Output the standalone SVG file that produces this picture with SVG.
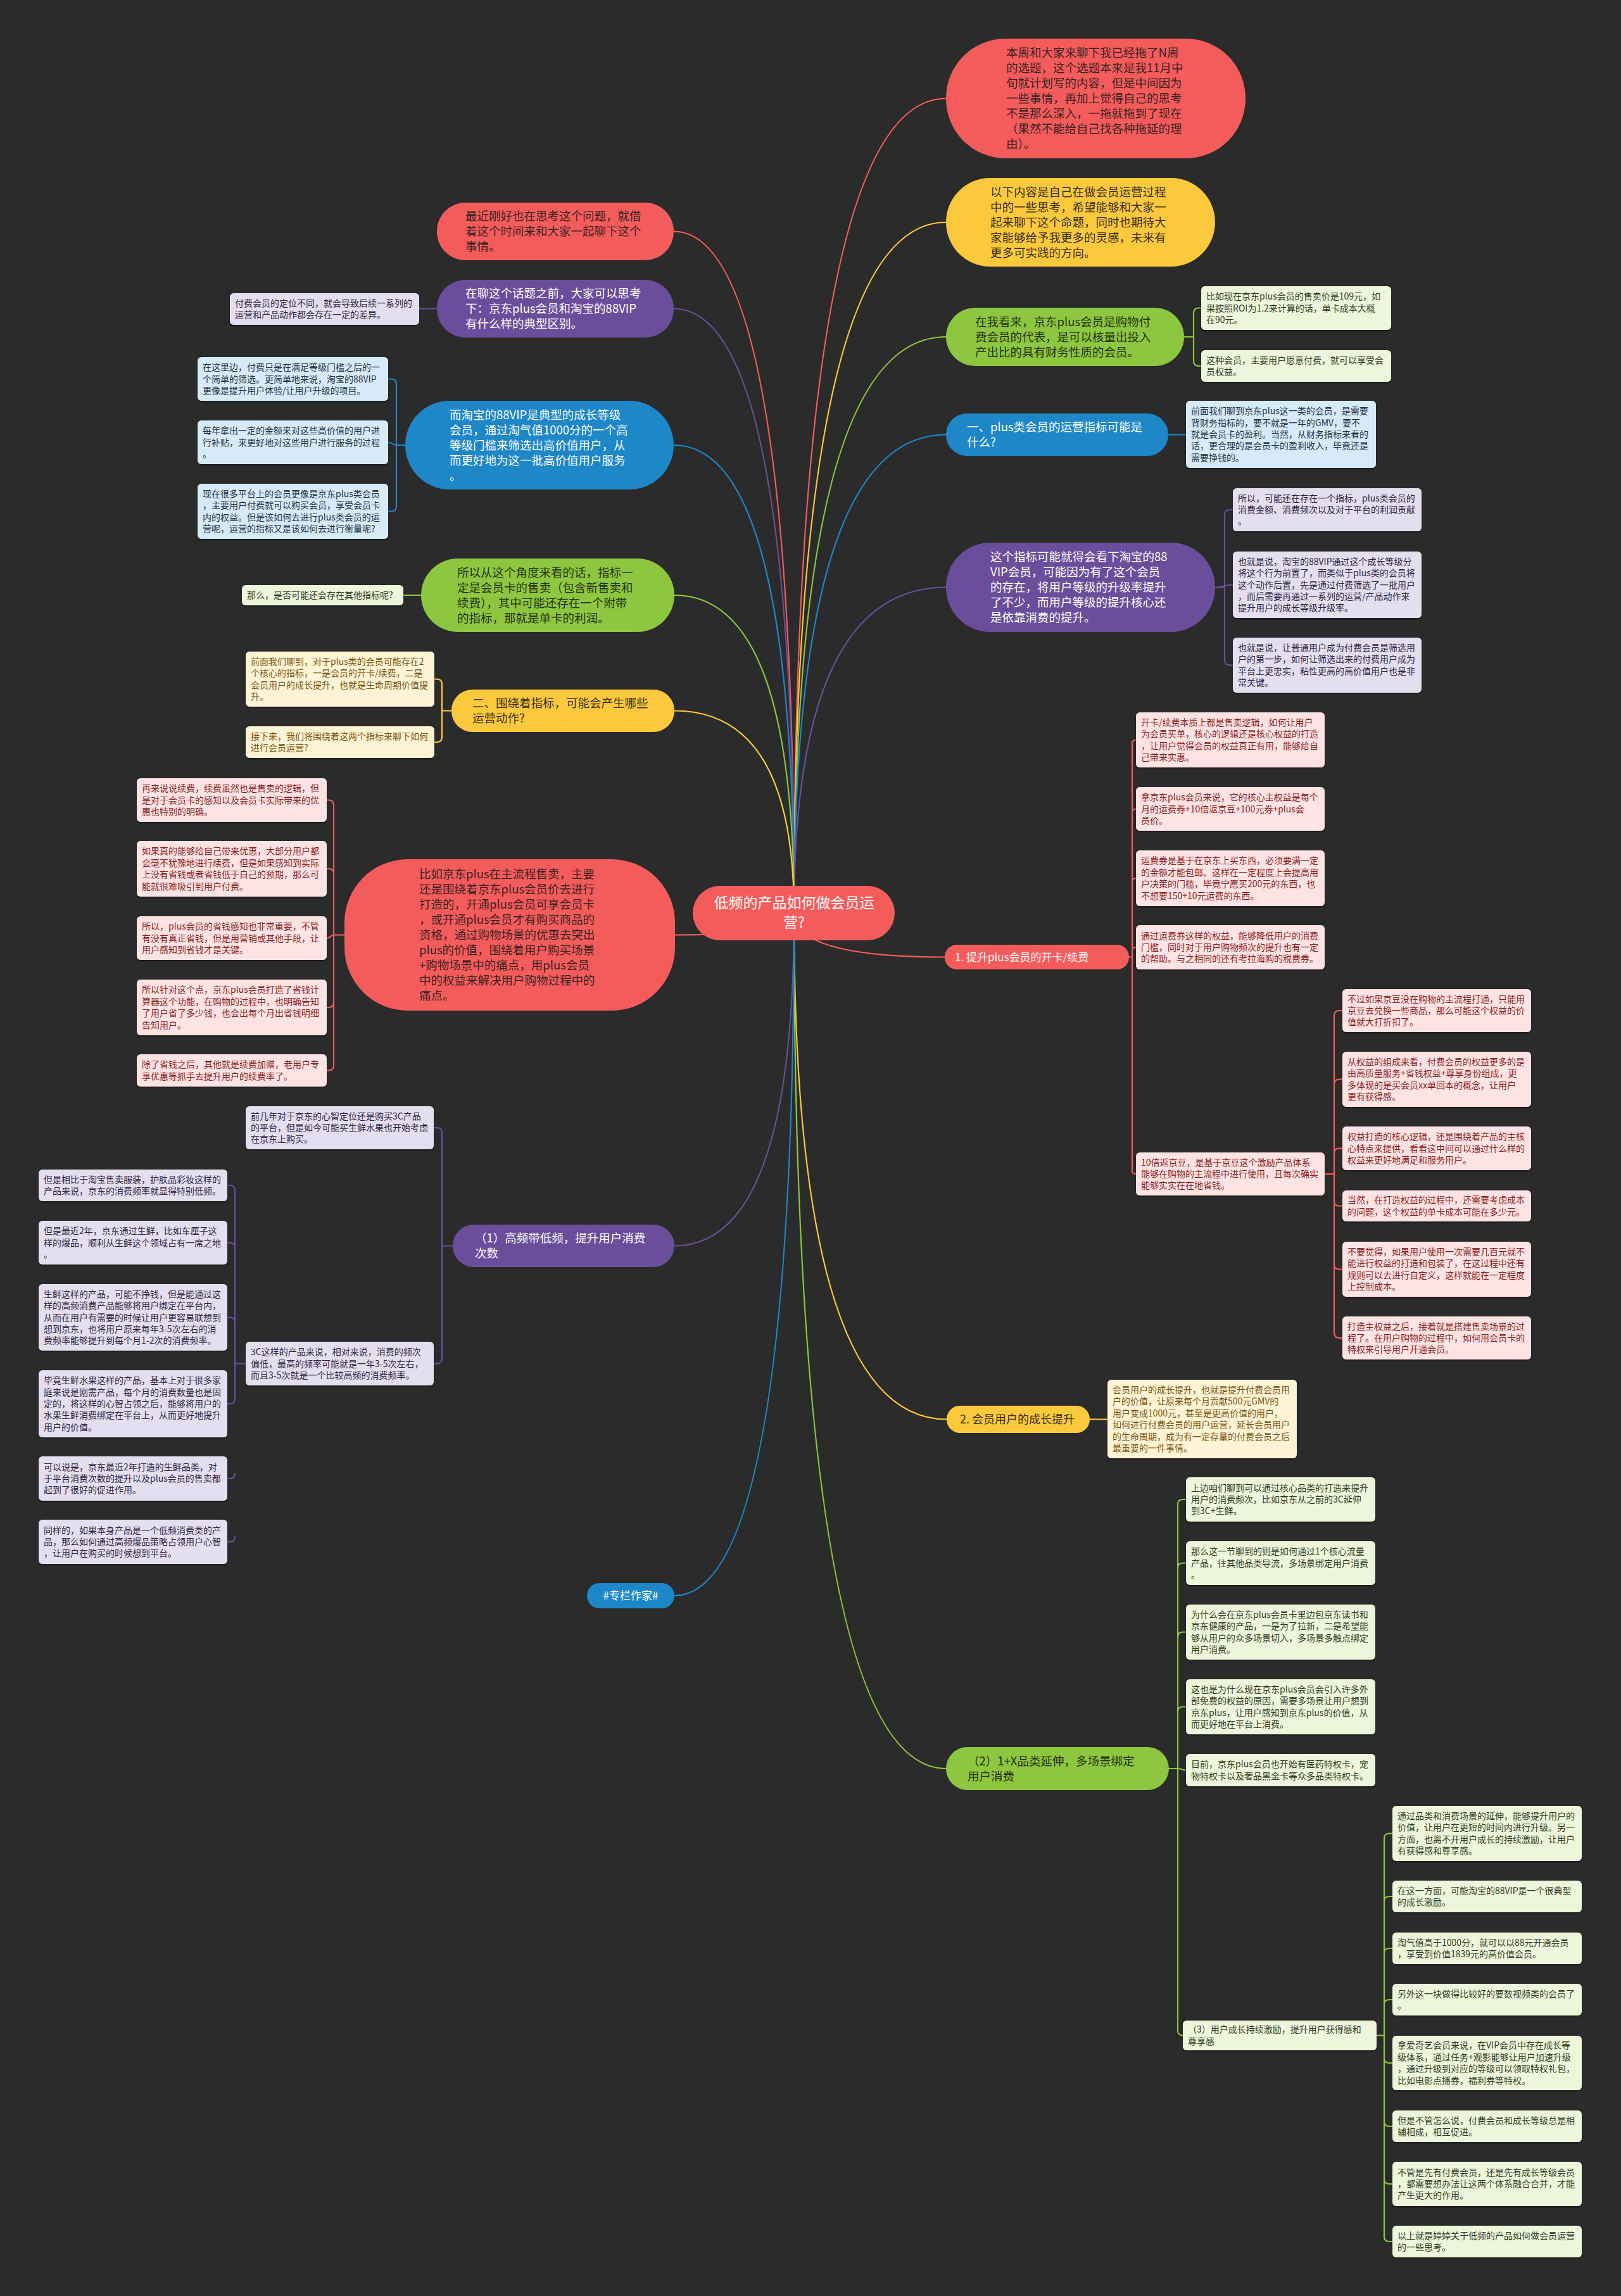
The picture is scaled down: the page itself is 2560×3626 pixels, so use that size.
<svg xmlns="http://www.w3.org/2000/svg" width="2560" height="3626" viewBox="0 0 2560 3626">
<defs>
<filter id="sh" x="-5%" y="-10%" width="110%" height="130%"><feDropShadow dx="0" dy="1.5" stdDeviation="1" flood-color="#000" flood-opacity="0.5"/></filter>
</defs>
<style>
text{font-family:"Noto Sans CJK SC","Microsoft YaHei","Noto Sans",sans-serif}
.b{font-size:18.5px}
.f{font-size:14px}
.c{fill:none;stroke-width:2.2;stroke-linecap:round}
.cr{stroke:#F45C5C}.cy{stroke:#FDC93C}.cg{stroke:#8DC63F}.cb{stroke:#1E87C8}.cp{stroke:#6A4E9B}
.nr{fill:#F45C5C}.ny{fill:#FDC93C}.ng{fill:#8DC63F}.nb{fill:#1E87C8}.np{fill:#6A4E9B}
.tr{fill:#3a2222}.ty{fill:#3a3020}.tg{fill:#26320f}.tw{fill:#ffffff}
.lr,.ly,.lg,.lb,.lp{filter:url(#sh)}
.lr{fill:#FDE3E3}.ly{fill:#FDF3D5}.lg{fill:#EDF5DB}.lb{fill:#D6EAF7}.lp{fill:#E4DFEE}
.xr{fill:#8B1E1E}.xy{fill:#7A5410}.xg{fill:#2F3B1E}.xb{fill:#1F3345}.xp{fill:#2E2445}
</style>
<rect width="2560" height="3626" fill="#2b2b2b"/>
<g id="connectors">
<path class="c cr" d="M1254 1442Q1254 155.5 1494 155.5"/>
<path class="c cy" d="M1254 1442Q1254 351 1494 351"/>
<path class="c cg" d="M1254 1442Q1254 532 1494 532"/>
<path class="c cb" d="M1254 1442Q1254 686.5 1494 686.5"/>
<path class="c cp" d="M1254 1442Q1254 927.5 1494 927.5"/>
<path class="c cr" d="M1254 1442Q1254 1511.5 1492 1511.5"/>
<path class="c cy" d="M1254 1442Q1254 2241.5 1495 2241.5"/>
<path class="c cg" d="M1254 1442Q1254 2793 1494 2793"/>
<path class="c cr" d="M1254 1442Q1254 365.5 1064 365.5"/>
<path class="c cp" d="M1254 1442Q1254 487.5 1064 487.5"/>
<path class="c cb" d="M1254 1442Q1254 703 1064 703"/>
<path class="c cg" d="M1254 1442Q1254 940 1065 940"/>
<path class="c cy" d="M1254 1442Q1254 1122.5 1065 1122.5"/>
<path class="c cr" d="M1254 1442Q1254 1476.5 1066 1476.5"/>
<path class="c cp" d="M1254 1442Q1254 1967.5 1065 1967.5"/>
<path class="c cb" d="M1254 1442Q1254 2520 1065 2520"/>
<path class="c cg" d="M1870 532H1885V494.5Q1885 486.5 1893 486.5H1897M1870 532H1885V570Q1885 578 1893 578H1897"/>
<path class="c cb" d="M1845 686.5H1873"/>
<path class="c cp" d="M1919 927.5H1934V813Q1934 805 1942 805H1947M1919 927.5C1934 927.5 1934 923.5 1947 923.5M1919 927.5H1934V1042.5Q1934 1050.5 1942 1050.5H1947"/>
<path class="c cr" d="M1783 1511.5H1788V1173.5Q1788 1168.5 1794 1168.5M1788 1282.5Q1788 1277.5 1794 1277.5M1788 1392Q1788 1387 1794 1387M1788 1501Q1788 1496 1794 1496M1783 1511.5H1788V1849Q1788 1854 1794 1854"/>
<path class="c cr" d="M2092 1854H2107V1604Q2107 1596 2115 1596H2120M2107 1712.5Q2107 1704.5 2115 1704.5H2120M2107 1821.5Q2107 1813.5 2115 1813.5H2120M2092 1854H2107V2104Q2107 2113 2115 2113H2120M2107 1896.5Q2107 1904.5 2115 1904.5H2120M2107 1996.5Q2107 2004.5 2115 2004.5H2120"/>
<path class="c cy" d="M1721 2241.5H1749"/>
<path class="c cg" d="M1846 2793H1860V2376Q1860 2368 1868 2368H1873M1860 2476.5Q1860 2468.5 1868 2468.5H1873M1860 2585.5Q1860 2577.5 1868 2577.5H1873M1860 2703.5Q1860 2695.5 1868 2695.5H1873M1860 2793C1866 2793 1866 2795.5 1873 2795.5M1846 2793H1860V3206.5Q1860 3214.5 1868 3214.5"/>
<path class="c cg" d="M2174 3214.5H2186V2903.5Q2186 2895.5 2194 2895.5H2199M2186 3003Q2186 2995 2194 2995H2199M2186 3085Q2186 3077 2194 3077H2199M2186 3166Q2186 3158 2194 3158H2199M2186 3250Q2186 3258 2194 3258H2199M2174 3214.5H2186V3532Q2186 3540 2194 3540H2199M2186 3350Q2186 3358 2194 3358H2199M2186 3441Q2186 3449 2194 3449H2199"/>
<path class="c cp" d="M690 487.5H662"/>
<path class="c cb" d="M640 703H626V606.5Q626 598.5 618 598.5H613M626 703C620 703 620 698.5 613 698.5M640 703H626V799.5Q626 807.5 618 807.5H613"/>
<path class="c cg" d="M665 940H637"/>
<path class="c cy" d="M713 1122.5H698V1080.5Q698 1072.5 690 1072.5H686M713 1122.5H698V1164Q698 1172 690 1172H686"/>
<path class="c cr" d="M544 1476.5H527V1271.5Q527 1263.5 519 1263.5H516M527 1380Q527 1372 519 1372H516M527 1476.5C522 1476.5 522 1481.5 516 1481.5M544 1476.5H527V1683Q527 1690.5 519 1690.5H516M527 1583Q527 1591 519 1591H516"/>
<path class="c cp" d="M715 1967.5H698V1789Q698 1781 690 1781H685M715 1967.5H698V2145.5Q698 2153.5 690 2153.5H685"/>
<path class="c cp" d="M388 2153.5H371V1880Q371 1872 363 1872H359M371 1970.5Q371 1962.5 363 1962.5H359M371 2088.5Q371 2080.5 363 2080.5H359M371 2153.5V2209Q371 2217 363 2217H359M371 2327Q371 2335 363 2335H359M371 2427Q371 2435 363 2435H359"/>
</g>
<g id="center">
<rect x="1094" y="1399" width="319" height="86" rx="43" class="nr"/>
<text x="1254" y="1434" text-anchor="middle" style="font-size:23px" class="tw"><tspan x="1254" y="1434">低频的产品如何做会员运</tspan><tspan x="1254" y="1465">营?</tspan></text>
</g>
<g id="r1">
<rect x="1494" y="61" width="473" height="189" rx="94" class="nr"/>
<text class="b tr"><tspan x="1589" y="90">本周和大家来聊下我已经拖了N周</tspan><tspan x="1589" y="114">的选题，这个选题本来是我11月中</tspan><tspan x="1589" y="138">旬就计划写的内容，但是中间因为</tspan><tspan x="1589" y="162">一些事情，再加上觉得自己的思考</tspan><tspan x="1589" y="186">不是那么深入，一拖就拖到了现在</tspan><tspan x="1589" y="210">（果然不能给自己找各种拖延的理</tspan><tspan x="1589" y="234">由）。</tspan></text>
</g>
<g id="r2">
<rect x="1494" y="281" width="425" height="140" rx="70" class="ny"/>
<text class="b ty"><tspan x="1564" y="309.5">以下内容是自己在做会员运营过程</tspan><tspan x="1564" y="333.5">中的一些思考，希望能够和大家一</tspan><tspan x="1564" y="357.5">起来聊下这个命题，同时也期待大</tspan><tspan x="1564" y="381.5">家能够给予我更多的灵感，未来有</tspan><tspan x="1564" y="405.5">更多可实践的方向。</tspan></text>
</g>
<g id="r3">
<rect x="1494" y="486" width="376" height="92" rx="46" class="ng"/>
<text class="b tg"><tspan x="1540" y="514.5">在我看来，京东plus会员是购物付</tspan><tspan x="1540" y="538.5">费会员的代表，是可以核量出投入</tspan><tspan x="1540" y="562.5">产出比的具有财务性质的会员。</tspan></text>
</g>
<g id="r3a"><rect x="1897" y="452" width="300" height="69" rx="6" class="lg"/><text class="f xg"><tspan x="1905" y="473.1">比如现在京东plus会员的售卖价是109元，如</tspan><tspan x="1905" y="491.5">果按照ROI为1.2来计算的话，单卡成本大概</tspan><tspan x="1905" y="509.9">在90元。</tspan></text></g>
<g id="r3b"><rect x="1897" y="553" width="300" height="50" rx="6" class="lg"/><text class="f xg"><tspan x="1905" y="573.8">这种会员，主要用户愿意付费，就可以享受会</tspan><tspan x="1905" y="592.2">员权益。</tspan></text></g>
<g id="r4">
<rect x="1494" y="653" width="351" height="67" rx="33" class="nb"/>
<text class="b tw"><tspan x="1527" y="681">一、plus类会员的运营指标可能是</tspan><tspan x="1527" y="705">什么?</tspan></text>
</g>
<g id="r4a"><rect x="1873" y="633" width="300" height="106" rx="6" class="lb"/><text class="f xb"><tspan x="1881" y="654.2">前面我们聊到京东plus这一类的会员，是需要</tspan><tspan x="1881" y="672.6">背财务指标的，要不就是一年的GMV，要不</tspan><tspan x="1881" y="691">就是会员卡的盈利。当然，从财务指标来看的</tspan><tspan x="1881" y="709.4">话，更合理的是会员卡的盈利收入，毕竟还是</tspan><tspan x="1881" y="727.8">需要挣钱的。</tspan></text></g>
<g id="r5">
<rect x="1494" y="857" width="425" height="141" rx="70" class="np"/>
<text class="b tw"><tspan x="1564" y="886">这个指标可能就得会看下淘宝的88</tspan><tspan x="1564" y="910">VIP会员，可能因为有了这个会员</tspan><tspan x="1564" y="934">的存在，将用户等级的升级率提升</tspan><tspan x="1564" y="958">了不少，而用户等级的提升核心还</tspan><tspan x="1564" y="982">是依靠消费的提升。</tspan></text>
</g>
<g id="r5a"><rect x="1947" y="771" width="298" height="68" rx="6" class="lp"/><text class="f xp"><tspan x="1955" y="791.6">所以，可能还在存在一个指标，plus类会员的</tspan><tspan x="1955" y="810">消费金额、消费频次以及对于平台的利润贡献</tspan><tspan x="1955" y="828.4">。</tspan></text></g>
<g id="r5b"><rect x="1947" y="871" width="298" height="105" rx="6" class="lp"/><text class="f xp"><tspan x="1955" y="891.7">也就是说，淘宝的88VIP通过这个成长等级分</tspan><tspan x="1955" y="910.1">将这个行为前置了，而类似于plus类的会员将</tspan><tspan x="1955" y="928.5">这个动作后置，先是通过付费筛选了一批用户</tspan><tspan x="1955" y="946.9">，而后需要再通过一系列的运营/产品动作来</tspan><tspan x="1955" y="965.3">提升用户的成长等级升级率。</tspan></text></g>
<g id="r5c"><rect x="1947" y="1007" width="298" height="87" rx="6" class="lp"/><text class="f xp"><tspan x="1955" y="1027.9">也就是说，让普通用户成为付费会员是筛选用</tspan><tspan x="1955" y="1046.3">户的第一步，如何让筛选出来的付费用户成为</tspan><tspan x="1955" y="1064.7">平台上更忠实，粘性更高的高价值用户也是非</tspan><tspan x="1955" y="1083.1">常关键。</tspan></text></g>
<g id="r6">
<rect x="1492" y="1492" width="291" height="39" rx="19" class="nr"/>
<text class="tw" style="font-size:17px" x="1508" y="1517.5">1. 提升plus会员的开卡/续费</text>
</g>
<g id="r6a"><rect x="1794" y="1125" width="298" height="87" rx="6" class="lr"/><text class="f xr"><tspan x="1802" y="1145.9">开卡/续费本质上都是售卖逻辑，如何让用户</tspan><tspan x="1802" y="1164.3">为会员买单，核心的逻辑还是核心权益的打造</tspan><tspan x="1802" y="1182.7">，让用户觉得会员的权益真正有用，能够给自</tspan><tspan x="1802" y="1201.1">己带来实惠。</tspan></text></g>
<g id="r6b"><rect x="1794" y="1243" width="298" height="69" rx="6" class="lr"/><text class="f xr"><tspan x="1802" y="1264.1">拿京东plus会员来说，它的核心主权益是每个</tspan><tspan x="1802" y="1282.5">月的运费券+10倍返京豆+100元券+plus会</tspan><tspan x="1802" y="1300.9">员价。</tspan></text></g>
<g id="r6c"><rect x="1794" y="1343" width="298" height="88" rx="6" class="lr"/><text class="f xr"><tspan x="1802" y="1364.4">运费券是基于在京东上买东西，必须要满一定</tspan><tspan x="1802" y="1382.8">的金额才能包邮。这样在一定程度上会提高用</tspan><tspan x="1802" y="1401.2">户决策的门槛，毕竟宁愿买200元的东西，也</tspan><tspan x="1802" y="1419.6">不想要150+10元运费的东西。</tspan></text></g>
<g id="r6d"><rect x="1794" y="1461" width="298" height="70" rx="6" class="lr"/><text class="f xr"><tspan x="1802" y="1482.6">通过运费券这样的权益，能够降低用户的消费</tspan><tspan x="1802" y="1501">门槛，同时对于用户购物频次的提升也有一定</tspan><tspan x="1802" y="1519.4">的帮助。与之相同的还有考拉海购的税费券。</tspan></text></g>
<g id="r6e"><rect x="1794" y="1820" width="298" height="68" rx="6" class="lr"/><text class="f xr"><tspan x="1802" y="1840.6">10倍返京豆，是基于京豆这个激励产品体系</tspan><tspan x="1802" y="1859">能够在购物的主流程中进行使用，且每次确实</tspan><tspan x="1802" y="1877.4">能够实实在在地省钱。</tspan></text></g>
<g id="s1"><rect x="2120" y="1562" width="298" height="68" rx="6" class="lr"/><text class="f xr"><tspan x="2128" y="1582.6">不过如果京豆没在购物的主流程打通，只能用</tspan><tspan x="2128" y="1601">京豆去兑换一些商品，那么可能这个权益的价</tspan><tspan x="2128" y="1619.4">值就大打折扣了。</tspan></text></g>
<g id="s2"><rect x="2120" y="1661" width="298" height="87" rx="6" class="lr"/><text class="f xr"><tspan x="2128" y="1681.9">从权益的组成来看，付费会员的权益更多的是</tspan><tspan x="2128" y="1700.3">由高质量服务+省钱权益+尊享身份组成，更</tspan><tspan x="2128" y="1718.7">多体现的是买会员xx单回本的概念，让用户</tspan><tspan x="2128" y="1737.1">更有获得感。</tspan></text></g>
<g id="s3"><rect x="2120" y="1779" width="298" height="69" rx="6" class="lr"/><text class="f xr"><tspan x="2128" y="1800.1">权益打造的核心逻辑，还是围绕着产品的主核</tspan><tspan x="2128" y="1818.5">心特点来提供，看看这中间可以通过什么样的</tspan><tspan x="2128" y="1836.9">权益来更好地满足和服务用户。</tspan></text></g>
<g id="s4"><rect x="2120" y="1880" width="298" height="49" rx="6" class="lr"/><text class="f xr"><tspan x="2128" y="1900.3">当然，在打造权益的过程中，还需要考虑成本</tspan><tspan x="2128" y="1918.7">的问题，这个权益的单卡成本可能在多少元。</tspan></text></g>
<g id="s5"><rect x="2120" y="1961" width="298" height="87" rx="6" class="lr"/><text class="f xr"><tspan x="2128" y="1981.9">不要觉得，如果用户使用一次需要几百元就不</tspan><tspan x="2128" y="2000.3">能进行权益的打造和包装了，在这过程中还有</tspan><tspan x="2128" y="2018.7">规则可以去进行自定义，这样就能在一定程度</tspan><tspan x="2128" y="2037.1">上控制成本。</tspan></text></g>
<g id="s6"><rect x="2120" y="2079" width="298" height="68" rx="6" class="lr"/><text class="f xr"><tspan x="2128" y="2099.6">打造主权益之后，接着就是搭建售卖场景的过</tspan><tspan x="2128" y="2118">程了。在用户购物的过程中，如何用会员卡的</tspan><tspan x="2128" y="2136.4">特权来引导用户开通会员。</tspan></text></g>
<g id="r7">
<rect x="1495" y="2220" width="226" height="43" rx="21" class="ny"/>
<text class="ty" style="font-size:18px" x="1516" y="2248">2. 会员用户的成长提升</text>
</g>
<g id="r7a"><rect x="1749" y="2179" width="299" height="124" rx="6" class="ly"/><text class="f xy"><tspan x="1757" y="2200">会员用户的成长提升，也就是提升付费会员用</tspan><tspan x="1757" y="2218.4">户的价值，让原来每个月贡献500元GMV的</tspan><tspan x="1757" y="2236.8">用户变成1000元，甚至是更高价值的用户，</tspan><tspan x="1757" y="2255.2">如何进行付费会员的用户运营，延长会员用户</tspan><tspan x="1757" y="2273.6">的生命周期，成为有一定存量的付费会员之后</tspan><tspan x="1757" y="2292">最重要的一件事情。</tspan></text></g>
<g id="r8">
<rect x="1494" y="2759" width="352" height="68" rx="34" class="ng"/>
<text class="b tg"><tspan x="1528" y="2787.5">（2）1+X品类延伸，多场景绑定</tspan><tspan x="1528" y="2811.5">用户消费</tspan></text>
</g>
<g id="g1"><rect x="1873" y="2333" width="299" height="70" rx="6" class="lg"/><text class="f xg"><tspan x="1881" y="2354.6">上边咱们聊到可以通过核心品类的打造来提升</tspan><tspan x="1881" y="2373">用户的消费频次，比如京东从之前的3C延伸</tspan><tspan x="1881" y="2391.4">到3C+生鲜。</tspan></text></g>
<g id="g2"><rect x="1873" y="2434" width="299" height="69" rx="6" class="lg"/><text class="f xg"><tspan x="1881" y="2455.1">那么这一节聊到的则是如何通过1个核心流量</tspan><tspan x="1881" y="2473.5">产品，往其他品类导流，多场景绑定用户消费</tspan><tspan x="1881" y="2491.9">。</tspan></text></g>
<g id="g3"><rect x="1873" y="2534" width="299" height="87" rx="6" class="lg"/><text class="f xg"><tspan x="1881" y="2554.9">为什么会在京东plus会员卡里边包京东读书和</tspan><tspan x="1881" y="2573.3">京东健康的产品，一是为了拉新，二是希望能</tspan><tspan x="1881" y="2591.7">够从用户的众多场景切入，多场景多触点绑定</tspan><tspan x="1881" y="2610.1">用户消费。</tspan></text></g>
<g id="g4"><rect x="1873" y="2652" width="299" height="87" rx="6" class="lg"/><text class="f xg"><tspan x="1881" y="2672.9">这也是为什么现在京东plus会员会引入许多外</tspan><tspan x="1881" y="2691.3">部免费的权益的原因，需要多场景让用户想到</tspan><tspan x="1881" y="2709.7">京东plus，让用户感知到京东plus的价值，从</tspan><tspan x="1881" y="2728.1">而更好地在平台上消费。</tspan></text></g>
<g id="g5"><rect x="1873" y="2770" width="299" height="51" rx="6" class="lg"/><text class="f xg"><tspan x="1881" y="2791.3">目前，京东plus会员也开始有医药特权卡，宠</tspan><tspan x="1881" y="2809.7">物特权卡以及奢品黑金卡等众多品类特权卡。</tspan></text></g>
<g id="g6"><rect x="1868" y="3191" width="306" height="47" rx="6" class="lg"/><text class="f xg"><tspan x="1876" y="3210.3">（3）用户成长持续激励，提升用户获得感和</tspan><tspan x="1876" y="3228.7">尊享感</tspan></text></g>
<g id="h1"><rect x="2199" y="2852" width="299" height="87" rx="6" class="lg"/><text class="f xg"><tspan x="2207" y="2872.9">通过品类和消费场景的延伸，能够提升用户的</tspan><tspan x="2207" y="2891.3">价值，让用户在更短的时间内进行升级。另一</tspan><tspan x="2207" y="2909.7">方面，也离不开用户成长的持续激励，让用户</tspan><tspan x="2207" y="2928.1">有获得感和尊享感。</tspan></text></g>
<g id="h2"><rect x="2199" y="2970" width="299" height="50" rx="6" class="lg"/><text class="f xg"><tspan x="2207" y="2990.8">在这一方面，可能淘宝的88VIP是一个很典型</tspan><tspan x="2207" y="3009.2">的成长激励。</tspan></text></g>
<g id="h3"><rect x="2199" y="3052" width="299" height="50" rx="6" class="lg"/><text class="f xg"><tspan x="2207" y="3072.8">淘气值高于1000分，就可以以88元开通会员</tspan><tspan x="2207" y="3091.2">，享受到价值1839元的高价值会员。</tspan></text></g>
<g id="h4"><rect x="2199" y="3133" width="299" height="50" rx="6" class="lg"/><text class="f xg"><tspan x="2207" y="3153.8">另外这一块做得比较好的要数视频类的会员了</tspan><tspan x="2207" y="3172.2">。</tspan></text></g>
<g id="h5"><rect x="2199" y="3215" width="299" height="86" rx="6" class="lg"/><text class="f xg"><tspan x="2207" y="3235.4">拿爱奇艺会员来说，在VIP会员中存在成长等</tspan><tspan x="2207" y="3253.8">级体系，通过任务+观影能够让用户加速升级</tspan><tspan x="2207" y="3272.2">，通过升级到对应的等级可以领取特权礼包，</tspan><tspan x="2207" y="3290.6">比如电影点播券，福利券等特权。</tspan></text></g>
<g id="h6"><rect x="2199" y="3333" width="299" height="50" rx="6" class="lg"/><text class="f xg"><tspan x="2207" y="3353.8">但是不管怎么说，付费会员和成长等级总是相</tspan><tspan x="2207" y="3372.2">辅相成，相互促进。</tspan></text></g>
<g id="h7"><rect x="2199" y="3414" width="299" height="70" rx="6" class="lg"/><text class="f xg"><tspan x="2207" y="3435.6">不管是先有付费会员，还是先有成长等级会员</tspan><tspan x="2207" y="3454">，都需要想办法让这两个体系融合合并，才能</tspan><tspan x="2207" y="3472.4">产生更大的作用。</tspan></text></g>
<g id="h8"><rect x="2199" y="3515" width="299" height="50" rx="6" class="lg"/><text class="f xg"><tspan x="2207" y="3535.8">以上就是婷婷关于低频的产品如何做会员运营</tspan><tspan x="2207" y="3554.2">的一些思考。</tspan></text></g>
<g id="l1">
<rect x="690" y="320" width="374" height="91" rx="45" class="nr"/>
<text class="b tr"><tspan x="735" y="348">最近刚好也在思考这个问题，就借</tspan><tspan x="735" y="372">着这个时间来和大家一起聊下这个</tspan><tspan x="735" y="396">事情。</tspan></text>
</g>
<g id="l2">
<rect x="690" y="442" width="374" height="91" rx="45" class="np"/>
<text class="b tw"><tspan x="735" y="470">在聊这个话题之前，大家可以思考</tspan><tspan x="735" y="494">下：京东plus会员和淘宝的88VIP</tspan><tspan x="735" y="518">有什么样的典型区别。</tspan></text>
</g>
<g id="l2a"><rect x="363" y="463" width="299" height="50" rx="6" class="lp"/><text class="f xp"><tspan x="371" y="483.8">付费会员的定位不同，就会导致后续一系列的</tspan><tspan x="371" y="502.2">运营和产品动作都会存在一定的差异。</tspan></text></g>
<g id="l3">
<rect x="640" y="633" width="424" height="140" rx="70" class="nb"/>
<text class="b tw"><tspan x="710" y="661.5">而淘宝的88VIP是典型的成长等级</tspan><tspan x="710" y="685.5">会员，通过淘气值1000分的一个高</tspan><tspan x="710" y="709.5">等级门槛来筛选出高价值用户，从</tspan><tspan x="710" y="733.5">而更好地为这一批高价值用户服务</tspan><tspan x="710" y="757.5">。</tspan></text>
</g>
<g id="l3a"><rect x="312" y="564" width="301" height="69" rx="6" class="lb"/><text class="f xb"><tspan x="320" y="585.1">在这里边，付费只是在满足等级门槛之后的一</tspan><tspan x="320" y="603.5">个简单的筛选。更简单地来说，淘宝的88VIP</tspan><tspan x="320" y="621.9">更像是提升用户体验/让用户升级的项目。</tspan></text></g>
<g id="l3b"><rect x="312" y="664" width="301" height="69" rx="6" class="lb"/><text class="f xb"><tspan x="320" y="685.1">每年拿出一定的金额来对这些高价值的用户进</tspan><tspan x="320" y="703.5">行补贴，来更好地对这些用户进行服务的过程</tspan><tspan x="320" y="721.9">。</tspan></text></g>
<g id="l3c"><rect x="312" y="764" width="301" height="87" rx="6" class="lb"/><text class="f xb"><tspan x="320" y="784.9">现在很多平台上的会员更像是京东plus类会员</tspan><tspan x="320" y="803.3">，主要用户付费就可以购买会员，享受会员卡</tspan><tspan x="320" y="821.7">内的权益。但是该如何去进行plus类会员的运</tspan><tspan x="320" y="840.1">营呢，运营的指标又是该如何去进行衡量呢?</tspan></text></g>
<g id="l4">
<rect x="665" y="882" width="400" height="116" rx="58" class="ng"/>
<text class="b tg"><tspan x="722" y="910.5">所以从这个角度来看的话，指标一</tspan><tspan x="722" y="934.5">定是会员卡的售卖（包含新售卖和</tspan><tspan x="722" y="958.5">续费），其中可能还存在一个附带</tspan><tspan x="722" y="982.5">的指标，那就是单卡的利润。</tspan></text>
</g>
<g id="l4a"><rect x="382" y="924" width="255" height="32" rx="6" class="lg"/><text class="f xg" x="390" y="945">那么，是否可能还会存在其他指标呢?</text></g>
<g id="l5">
<rect x="713" y="1089" width="352" height="67" rx="33" class="ny"/>
<text class="b ty"><tspan x="746" y="1117">二、围绕着指标，可能会产生哪些</tspan><tspan x="746" y="1141">运营动作?</tspan></text>
</g>
<g id="l5a"><rect x="388" y="1029" width="298" height="87" rx="6" class="ly"/><text class="f xy"><tspan x="396" y="1049.9">前面我们聊到，对于plus类的会员可能存在2</tspan><tspan x="396" y="1068.3">个核心的指标，一是会员的开卡/续费，二是</tspan><tspan x="396" y="1086.7">会员用户的成长提升，也就是生命周期价值提</tspan><tspan x="396" y="1105.1">升。</tspan></text></g>
<g id="l5b"><rect x="388" y="1147" width="298" height="50" rx="6" class="ly"/><text class="f xy"><tspan x="396" y="1167.8">接下来，我们将围绕着这两个指标来聊下如何</tspan><tspan x="396" y="1186.2">进行会员运营?</tspan></text></g>
<g id="l6">
<rect x="544" y="1357" width="522" height="239" rx="100" class="nr"/>
<text class="b tr"><tspan x="662" y="1387">比如京东plus在主流程售卖，主要</tspan><tspan x="662" y="1411">还是围绕着京东plus会员价去进行</tspan><tspan x="662" y="1435">打造的，开通plus会员可享会员卡</tspan><tspan x="662" y="1459">，或开通plus会员才有购买商品的</tspan><tspan x="662" y="1483">资格，通过购物场景的优惠去突出</tspan><tspan x="662" y="1507">plus的价值，围绕着用户购买场景</tspan><tspan x="662" y="1531">+购物场景中的痛点，用plus会员</tspan><tspan x="662" y="1555">中的权益来解决用户购物过程中的</tspan><tspan x="662" y="1579">痛点。</tspan></text>
</g>
<g id="l6a"><rect x="216" y="1229" width="300" height="69" rx="6" class="lr"/><text class="f xr"><tspan x="224" y="1250.1">再来说说续费，续费虽然也是售卖的逻辑，但</tspan><tspan x="224" y="1268.5">是对于会员卡的感知以及会员卡实际带来的优</tspan><tspan x="224" y="1286.9">惠也特别的明确。</tspan></text></g>
<g id="l6b"><rect x="216" y="1328" width="300" height="88" rx="6" class="lr"/><text class="f xr"><tspan x="224" y="1349.4">如果真的能够给自己带来优惠，大部分用户都</tspan><tspan x="224" y="1367.8">会毫不犹豫地进行续费，但是如果感知到实际</tspan><tspan x="224" y="1386.2">上没有省钱或者省钱低于自己的预期，那么可</tspan><tspan x="224" y="1404.6">能就很难吸引到用户付费。</tspan></text></g>
<g id="l6c"><rect x="216" y="1447" width="300" height="69" rx="6" class="lr"/><text class="f xr"><tspan x="224" y="1468.1">所以，plus会员的省钱感知也非常重要，不管</tspan><tspan x="224" y="1486.5">有没有真正省钱，但是用营销或其他手段，让</tspan><tspan x="224" y="1504.9">用户感知到省钱才是关键。</tspan></text></g>
<g id="l6d"><rect x="216" y="1547" width="300" height="88" rx="6" class="lr"/><text class="f xr"><tspan x="224" y="1568.4">所以针对这个点，京东plus会员打造了省钱计</tspan><tspan x="224" y="1586.8">算器这个功能，在购物的过程中，也明确告知</tspan><tspan x="224" y="1605.2">了用户省了多少钱，也会出每个月出省钱明细</tspan><tspan x="224" y="1623.6">告知用户。</tspan></text></g>
<g id="l6e"><rect x="216" y="1665" width="300" height="51" rx="6" class="lr"/><text class="f xr"><tspan x="224" y="1686.3">除了省钱之后，其他就是续费加赠，老用户专</tspan><tspan x="224" y="1704.7">享优惠等抓手去提升用户的续费率了。</tspan></text></g>
<g id="l7">
<rect x="715" y="1934" width="350" height="67" rx="33" class="np"/>
<text class="b tw"><tspan x="750" y="1962">（1）高频带低频，提升用户消费</tspan><tspan x="750" y="1986">次数</tspan></text>
</g>
<g id="l7a"><rect x="388" y="1747" width="297" height="68" rx="6" class="lp"/><text class="f xp"><tspan x="396" y="1767.6">前几年对于京东的心智定位还是购买3C产品</tspan><tspan x="396" y="1786">的平台，但是如今可能买生鲜水果也开始考虑</tspan><tspan x="396" y="1804.4">在京东上购买。</tspan></text></g>
<g id="l7b"><rect x="388" y="2119" width="297" height="69" rx="6" class="lp"/><text class="f xp"><tspan x="396" y="2140.1">3C这样的产品来说，相对来说，消费的频次</tspan><tspan x="396" y="2158.5">偏低，最高的频率可能就是一年3-5次左右，</tspan><tspan x="396" y="2176.9">而且3-5次就是一个比较高频的消费频率。</tspan></text></g>
<g id="q1"><rect x="61" y="1847" width="298" height="50" rx="6" class="lp"/><text class="f xp"><tspan x="69" y="1867.8">但是相比于淘宝售卖服装，护肤品彩妆这样的</tspan><tspan x="69" y="1886.2">产品来说，京东的消费频率就显得特别低频。</tspan></text></g>
<g id="q2"><rect x="61" y="1928" width="298" height="69" rx="6" class="lp"/><text class="f xp"><tspan x="69" y="1949.1">但是最近2年，京东通过生鲜，比如车厘子这</tspan><tspan x="69" y="1967.5">样的爆品，顺利从生鲜这个领域占有一席之地</tspan><tspan x="69" y="1985.9">。</tspan></text></g>
<g id="q3"><rect x="61" y="2028" width="298" height="105" rx="6" class="lp"/><text class="f xp"><tspan x="69" y="2048.7">生鲜这样的产品，可能不挣钱，但是能通过这</tspan><tspan x="69" y="2067.1">样的高频消费产品能够将用户绑定在平台内，</tspan><tspan x="69" y="2085.5">从而在用户有需要的时候让用户更容易联想到</tspan><tspan x="69" y="2103.9">想到京东，也将用户原来每年3-5次左右的消</tspan><tspan x="69" y="2122.3">费频率能够提升到每个月1-2次的消费频率。</tspan></text></g>
<g id="q4"><rect x="61" y="2164" width="298" height="106" rx="6" class="lp"/><text class="f xp"><tspan x="69" y="2185.2">毕竟生鲜水果这样的产品，基本上对于很多家</tspan><tspan x="69" y="2203.6">庭来说是刚需产品，每个月的消费数量也是固</tspan><tspan x="69" y="2222">定的，将这样的心智占领之后，能够将用户的</tspan><tspan x="69" y="2240.4">水果生鲜消费绑定在平台上，从而更好地提升</tspan><tspan x="69" y="2258.8">用户的价值。</tspan></text></g>
<g id="q5"><rect x="61" y="2300" width="298" height="70" rx="6" class="lp"/><text class="f xp"><tspan x="69" y="2321.6">可以说是，京东最近2年打造的生鲜品类，对</tspan><tspan x="69" y="2340">于平台消费次数的提升以及plus会员的售卖都</tspan><tspan x="69" y="2358.4">起到了很好的促进作用。</tspan></text></g>
<g id="q6"><rect x="61" y="2400" width="298" height="70" rx="6" class="lp"/><text class="f xp"><tspan x="69" y="2421.6">同样的，如果本身产品是一个低频消费类的产</tspan><tspan x="69" y="2440">品，那么如何通过高频爆品策略占领用户心智</tspan><tspan x="69" y="2458.4">，让用户在购买的时候想到平台。</tspan></text></g>
<g id="l8">
<rect x="927" y="2500" width="138" height="40" rx="20" class="nb"/>
<text class="tw" style="font-size:17px" x="996" y="2526" text-anchor="middle">#专栏作家#</text>
</g>
</svg>
